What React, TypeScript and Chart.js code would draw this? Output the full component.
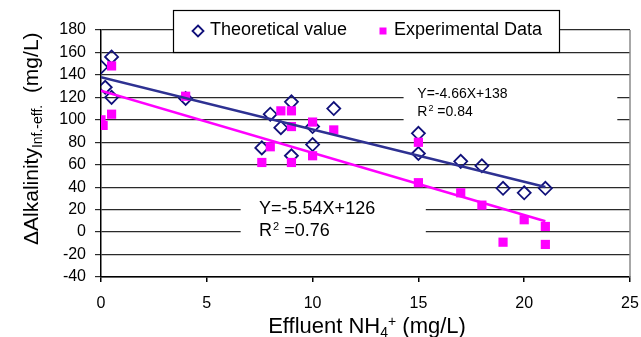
import React, { useEffect, useRef } from "react";
import { Chart, registerables } from "chart.js";

Chart.register(...registerables);

const theoX = [0, 0.2, 0.5, 0.5, 4, 7.6, 8, 8.5, 9, 9, 10, 10, 11, 15, 15, 17, 18, 19, 20, 21];
const theoY = [147, 129, 156, 120, 119, 75, 105, 93, 116, 68, 94, 78, 110, 88, 70, 63, 59, 39, 35, 39];

const expX = [0, 0.1, 0.5, 0.5, 4, 7.6, 8, 8.5, 9, 9, 9, 10, 10, 11, 15, 15, 17, 18, 19, 20, 21, 21];
const expY = [100, 95, 105, 148, 121, 62, 76, 108, 108, 94, 62, 98, 68, 91, 80, 44, 35, 24, -9, 11, 5, -11];

const trendX = [0, 21];
const theoTrend = [138, 40.1];
const expTrend = [126, 9.7];

const xTicks = [0, 5, 10, 15, 20, 25];
const yTicks = [-40, -20, 0, 20, 40, 60, 80, 100, 120, 140, 160, 180];

const legendLabels = ["Theoretical value", "Experimental Data"];
const eq1 = ["Y=-4.66X+138", "0.84"];
const eq2 = ["Y=-5.54X+126", "0.76"];

const NAVY = "#10107a";
const BLUE_LINE = "#2e3192";
const PINK = "#ff00ff";
const FONT = "'Liberation Sans', Arial, sans-serif";

const decorPlugin = {
  id: "decor",
  beforeDatasetsDraw(chart: any) {
    const ctx = chart.ctx;
    const xs = chart.scales.x;
    const ys = chart.scales.y;
    const px = (v: number) => xs.getPixelForValue(v);
    const py = (v: number) => ys.getPixelForValue(v);
    ctx.save();
    ctx.fillStyle = "#fff";
    ctx.fillRect(px(14.3), py(132), px(24.4) - px(14.3), py(94) - py(132));
    ctx.fillRect(px(6.6), py(31), px(15.35) - px(6.6), py(-11) - py(31));
    ctx.fillStyle = "#000";
    ctx.textBaseline = "middle";
    const drawR2 = (x: number, y: number, val: string, size: number) => {
      ctx.font = `${size}px ${FONT}`;
      ctx.fillText("R", x, y);
      let w = ctx.measureText("R").width;
      const ss = Math.round(size * 0.62);
      ctx.font = `${ss}px ${FONT}`;
      ctx.fillText("2", x + w + 1, y - size * 0.28);
      w += ctx.measureText("2").width + 1;
      ctx.font = `${size}px ${FONT}`;
      ctx.fillText(" =" + val, x + w, y);
    };
    ctx.font = `14px ${FONT}`;
    ctx.fillText(eq1[0], px(14.95), py(123));
    drawR2(px(14.95), py(107), eq1[1], 14);
    ctx.font = `18px ${FONT}`;
    ctx.fillText(eq2[0], px(7.47), py(20.5));
    drawR2(px(7.47), py(0.5), eq2[1], 18);
    ctx.restore();
  },
  afterDraw(chart: any) {
    const ctx = chart.ctx;
    const ca = chart.chartArea;
    ctx.save();
    ctx.strokeStyle = "#8a8a8a";
    ctx.lineWidth = 1.5;
    ctx.beginPath();
    ctx.moveTo(ca.right, ca.top);
    ctx.lineTo(ca.right, ca.bottom);
    ctx.stroke();

    const lx = 173, ly = 10, lw = 386, lh = 42;
    ctx.fillStyle = "#fff";
    ctx.fillRect(lx, ly, lw, lh);
    ctx.strokeStyle = "#000";
    ctx.lineWidth = 1.2;
    ctx.strokeRect(lx + 0.5, ly + 0.5, lw, lh);
    ctx.strokeStyle = NAVY;
    ctx.lineWidth = 1.8;
    ctx.beginPath();
    const dx = 198, dy = 31, r = 5.5;
    ctx.moveTo(dx, dy - r);
    ctx.lineTo(dx + r, dy);
    ctx.lineTo(dx, dy + r);
    ctx.lineTo(dx - r, dy);
    ctx.closePath();
    ctx.stroke();
    ctx.fillStyle = PINK;
    ctx.fillRect(379.5, 27.5, 7, 7);
    ctx.fillStyle = "#000";
    ctx.font = `18px ${FONT}`;
    ctx.textBaseline = "middle";
    ctx.textAlign = "left";
    ctx.fillText(legendLabels[0], 210, 30);
    ctx.fillText(legendLabels[1], 394, 30);

    const parts: [string, number, number][] = [
      ["Effluent NH", 22, 0],
      ["4", 14, 4],
      ["+", 14, -7],
      [" (mg/L)", 22, 0],
    ];
    ctx.textBaseline = "alphabetic";
    let total = 0;
    for (const [t, s] of parts) {
      ctx.font = `${s}px ${FONT}`;
      total += ctx.measureText(t).width;
    }
    let cx = 367 - total / 2;
    for (const [t, s, off] of parts) {
      ctx.font = `${s}px ${FONT}`;
      ctx.fillText(t, cx, 333 + off);
      cx += ctx.measureText(t).width;
    }

    ctx.translate(38, 245);
    ctx.rotate(-Math.PI / 2);
    const yparts: [string, number, number][] = [
      ["\u0394Alkalinity", 21, 0],
      ["Inf.-eff.", 14, 4],
      ["  (mg/L)", 21, 0],
    ];
    let yx = 0;
    for (const [t, s, off] of yparts) {
      ctx.font = `${s}px ${FONT}`;
      ctx.fillText(t, yx, off);
      yx += ctx.measureText(t).width;
    }
    ctx.restore();
  },
};

export default function App() {
  const ref = useRef<HTMLCanvasElement>(null);
  useEffect(() => {
    if (!ref.current) return;
    const chart = new Chart(ref.current, {
      type: "scatter",
      data: {
        datasets: [
          {
            label: "trend-exp",
            type: "line",
            data: trendX.map((x, i) => ({ x, y: expTrend[i] })),
            borderColor: PINK,
            borderWidth: 2.5,
            pointRadius: 0,
            showLine: true,
            order: 1,
          },
          {
            label: "trend-theo",
            type: "line",
            data: trendX.map((x, i) => ({ x, y: theoTrend[i] })),
            borderColor: BLUE_LINE,
            borderWidth: 2.5,
            pointRadius: 0,
            showLine: true,
            order: 2,
          },
          {
            label: legendLabels[1],
            data: expX.map((x, i) => ({ x, y: expY[i] })),
            pointStyle: "rect",
            pointRadius: 6.5,
            backgroundColor: PINK,
            borderColor: PINK,
            borderWidth: 0,
            order: 3,
          },
          {
            label: legendLabels[0],
            data: theoX.map((x, i) => ({ x, y: theoY[i] })),
            pointStyle: "rectRot",
            pointRadius: 6.5,
            backgroundColor: "rgba(255,255,255,0)",
            borderColor: NAVY,
            borderWidth: 1.8,
            order: 4,
          },
        ],
      },
      options: {
        animation: false,
        responsive: false,
        layout: { padding: { left: 0, top: 30, right: 11, bottom: 0 } },
        plugins: { legend: { display: false }, tooltip: { enabled: false } },
        scales: {
          x: {
            type: "linear",
            min: 0,
            max: 25,
            afterFit: (s: any) => {
              s.height = 60;
              s.paddingLeft = 0;
              s.paddingRight = 0;
            },
            afterBuildTicks: (s: any) => {
              s.ticks = xTicks.map((v) => ({ value: v }));
            },
            ticks: {
              color: "#000",
              font: { family: FONT, size: 16 },
              padding: 12,
            },
            grid: {
              drawOnChartArea: false,
              drawTicks: true,
              tickLength: 5,
              color: "#000",
              lineWidth: 1.5,
            },
            border: { display: true, color: "#000", width: 1.5 },
          },
          y: {
            type: "linear",
            min: -40,
            max: 180,
            afterFit: (s: any) => {
              s.width = 101;
              s.paddingTop = 0;
              s.paddingBottom = 0;
            },
            afterBuildTicks: (s: any) => {
              s.ticks = yTicks.map((v) => ({ value: v }));
            },
            ticks: {
              color: "#000",
              font: { family: FONT, size: 16 },
              padding: 9,
            },
            grid: {
              drawOnChartArea: true,
              drawTicks: true,
              tickLength: 6,
              color: "#2a2a2a",
              lineWidth: 1.2,
            },
            border: { display: true, color: "#000", width: 1.5 },
          },
        },
      },
      plugins: [decorPlugin],
    } as any);
    return () => chart.destroy();
  }, []);
  return (
    <div style={{ position: "absolute", left: 0, top: 0, width: 641, height: 337, background: "#fff" }}>
      <canvas ref={ref} width={641} height={337} />
    </div>
  );
}
